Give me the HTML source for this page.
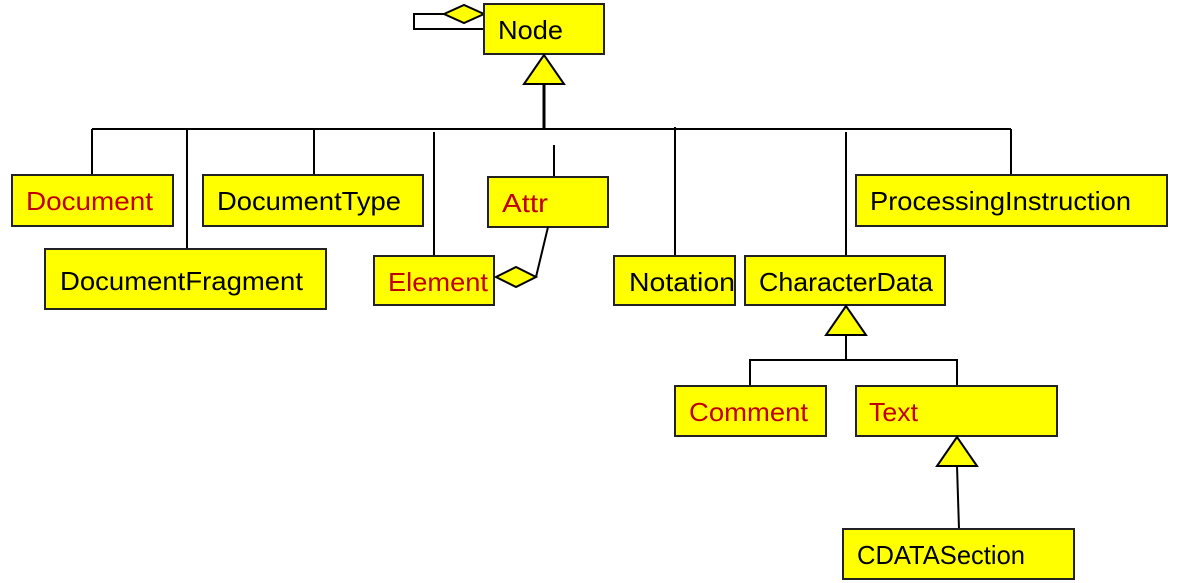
<!DOCTYPE html>
<html><head><meta charset="utf-8"><style>
html,body{margin:0;padding:0;background:#fff;}
svg{display:block;}
text{font-family:"Liberation Sans",sans-serif;font-size:26px;}
.b{fill:#000}.r{fill:#c00000}
rect{fill:#ffff00;stroke:#222;stroke-width:2}
line,polyline{stroke:#000;stroke-width:2;fill:none}
polygon{fill:#ffff00;stroke:#000;stroke-width:2}
</style></head><body>
<svg width="1177" height="583" viewBox="0 0 1177 583">
<polyline points="444,14 414,14 414,29 484,29"/>
<polygon points="444,14 464,5 484,14 464,23"/>
<rect x="484" y="4" width="120" height="50"/>
<text class="b" x="498" y="39" textLength="65" lengthAdjust="spacingAndGlyphs">Node</text>
<polygon points="544,55 524,84 564,84"/>
<line x1="544" y1="84" x2="544" y2="129" style="stroke-width:3"/>
<line x1="92" y1="129" x2="1011" y2="129"/>
<line x1="92" y1="129" x2="92" y2="175"/>
<line x1="187" y1="129" x2="187" y2="249"/>
<line x1="314" y1="129" x2="314" y2="175"/>
<line x1="434" y1="132" x2="434" y2="256"/>
<line x1="554" y1="145" x2="554" y2="177"/>
<line x1="675" y1="127" x2="675" y2="256"/>
<line x1="846" y1="132" x2="846" y2="256"/>
<line x1="1011" y1="129" x2="1011" y2="175"/>

<rect x="12" y="175" width="161" height="51"/>
<text class="r" x="26" y="210" textLength="127" lengthAdjust="spacingAndGlyphs">Document</text>
<rect x="203" y="175" width="220" height="51"/>
<text class="b" x="217" y="210" textLength="184" lengthAdjust="spacingAndGlyphs">DocumentType</text>
<rect x="488" y="177" width="120" height="50"/>
<text class="r" x="502" y="212" textLength="46" lengthAdjust="spacingAndGlyphs">Attr</text>
<rect x="856" y="175" width="311" height="51"/>
<text class="b" x="870" y="210" textLength="261" lengthAdjust="spacingAndGlyphs">ProcessingInstruction</text>
<rect x="45" y="249" width="281" height="60"/>
<text class="b" x="60" y="290" textLength="243" lengthAdjust="spacingAndGlyphs">DocumentFragment</text>
<rect x="374" y="256" width="120" height="49"/>
<text class="r" x="388" y="291" textLength="100" lengthAdjust="spacingAndGlyphs">Element</text>
<line x1="536" y1="277" x2="548" y2="227"/>
<polygon points="496,277 516,267 536,277 516,287"/>
<rect x="614" y="256" width="121" height="49"/>
<text class="b" x="629" y="291" textLength="106" lengthAdjust="spacingAndGlyphs">Notation</text>
<rect x="745" y="256" width="200" height="49"/>
<text class="b" x="759" y="291" textLength="174" lengthAdjust="spacingAndGlyphs">CharacterData</text>

<polygon points="846,306 826,335 866,335"/>
<line x1="846" y1="335" x2="846" y2="360"/>
<polyline points="750,386 750,360 957,360 957,386"/>
<rect x="675" y="386" width="151" height="50"/>
<text class="r" x="689" y="421" textLength="119" lengthAdjust="spacingAndGlyphs">Comment</text>
<rect x="856" y="386" width="201" height="50"/>
<text class="r" x="869" y="421" textLength="49" lengthAdjust="spacingAndGlyphs">Text</text>
<polygon points="957,437 937,466 977,466"/>
<line x1="957" y1="466" x2="959" y2="529"/>
<rect x="843" y="529" width="231" height="50"/>
<text class="b" x="857" y="564" textLength="168" lengthAdjust="spacingAndGlyphs">CDATASection</text>
</svg>
</body></html>
